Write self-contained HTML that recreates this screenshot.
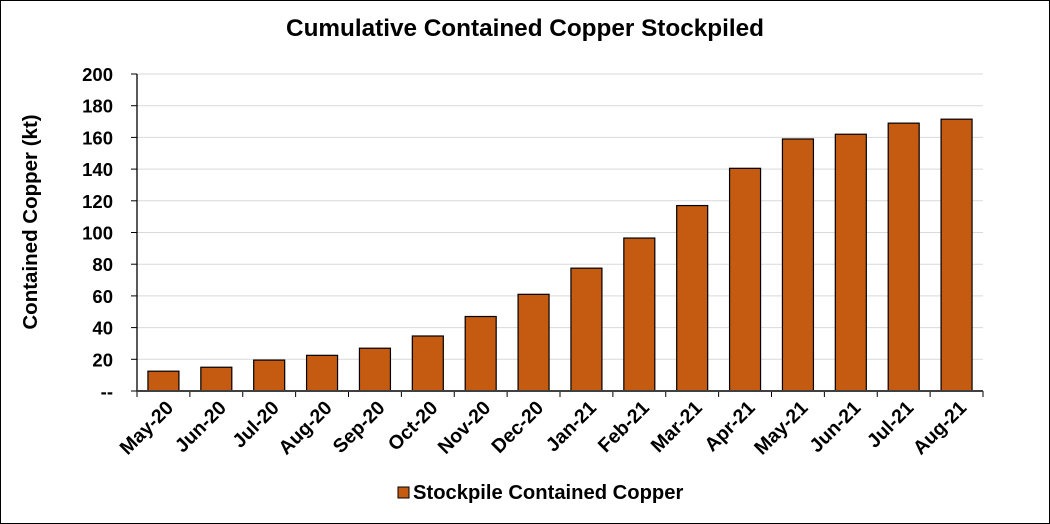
<!DOCTYPE html>
<html><head><meta charset="utf-8"><style>
body{margin:0;background:#fff;}
svg{display:block;font-family:"Liberation Sans",Arial,sans-serif;}
</style></head><body>
<svg width="1050" height="524" viewBox="0 0 1050 524">
<rect x="0.5" y="0.5" width="1049" height="523" fill="#fff" stroke="#000"/>
<text x="525" y="36" text-anchor="middle" font-size="24.3" font-weight="bold">Cumulative Contained Copper Stockpiled</text>
<text transform="translate(37,222) rotate(-90)" text-anchor="middle" font-size="20.5" font-weight="bold">Contained Copper (kt)</text>
<g id="grid"></g><g id="bars"></g><g id="axes"></g>
<rect x="398" y="487" width="11" height="11" fill="#C55A11" stroke="#000"/>
<text x="413" y="499" font-size="20.2" font-weight="bold">Stockpile Contained Copper</text>
</svg>
<script>
const categories=["May-20","Jun-20","Jul-20","Aug-20","Sep-20","Oct-20","Nov-20","Dec-20","Jan-21","Feb-21","Mar-21","Apr-21","May-21","Jun-21","Jul-21","Aug-21"];
const values=[12.5,15,19.5,22.5,27,34.7,47,61,77.5,96.5,117,140.5,159,162,169,171.5];
const yTicks=[0,20,40,60,80,100,120,140,160,180,200];
const yTickLabels=["--","20","40","60","80","100","120","140","160","180","200"];
const NS="http://www.w3.org/2000/svg";
const x0=137,x1=983,y0=391,y200=74;
const step=(x1-x0)/categories.length;
const ys=v=>y0-(v/200)*(y0-y200);
function mk(t,a,p){const e=document.createElementNS(NS,t);for(const k in a)e.setAttribute(k,a[k]);p.appendChild(e);return e;}
const g=document.getElementById('grid'),b=document.getElementById('bars'),ax=document.getElementById('axes');
yTicks.forEach((v,i)=>{
 if(v>0){const l=mk('line',{x1:x0,x2:x1,y1:ys(v),y2:ys(v),stroke:'#d9d9d9','stroke-width':1},g);
 
 }
 const tk=mk('line',{x1:x0-6,x2:x0,y1:ys(v),y2:ys(v),stroke:'#000'},ax);
 
 
 const t=mk('text',{x:x0-24,y:ys(v)+7,'text-anchor':'end','font-size':18.5,'font-weight':'bold'},ax);
 t.textContent=yTickLabels[i];
 
 
});
categories.forEach((c,i)=>{
 const cx=x0+step*(i+0.5),w=31;
 const r=mk('rect',{x:cx-w/2,y:ys(values[i]),width:w,height:y0-ys(values[i]),fill:'#C55A11',stroke:'#000','stroke-width':1.2},b);
 
 
 const tk=mk('line',{x1:x0+step*i,x2:x0+step*i,y1:y0,y2:y0+6,stroke:'#000'},ax);
 
 
 const t=mk('text',{x:cx+11,y:y0+18,'text-anchor':'end','font-size':19.5,'font-weight':'bold',transform:`rotate(-45 ${cx+11} ${y0+18})`},ax);
 t.textContent=c;
 
 
});
const tl=mk('line',{x1:x1,x2:x1,y1:y0,y2:y0+6,stroke:'#000'},ax);


const ya=mk('line',{x1:x0,x2:x0,y1:y200,y2:y0,stroke:'#000','stroke-width':1.3},ax);


const xa=mk('line',{x1:x0,x2:x1,y1:y0,y2:y0,stroke:'#404040','stroke-width':2},ax);


</script>
</body></html>
